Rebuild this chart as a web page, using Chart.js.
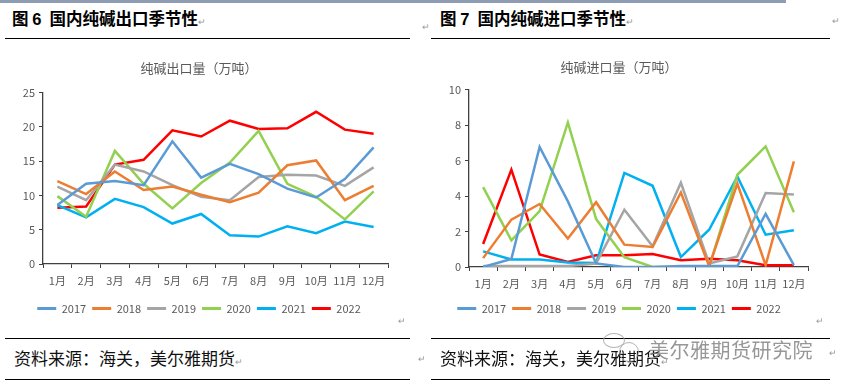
<!DOCTYPE html>
<html>
<head>
<meta charset="utf-8">
<script src="https://cdn.jsdelivr.net/npm/chart.js@4.4.1/dist/chart.umd.min.js"></script>
<style>
  body { margin: 0; background: #fff; font-family: "Noto Sans CJK SC", sans-serif; }
  #page { position: relative; width: 842px; height: 388px; overflow: hidden; }
  .bar { position: absolute; left: 0; top: 0; width: 786px; height: 3px; background: #8e9db3; }
  .head { position: absolute; top: 6px; font-size: 16.5px; font-weight: bold; color: #000; white-space: nowrap; }
  .head b { font-family: "Liberation Sans", sans-serif; margin-right: 8px; }
  .rule { position: absolute; height: 0; border-top: 1.5px solid #000; }
  .foot { position: absolute; top: 345px; font-size: 17px; color: #111; white-space: nowrap; }
  .mark { color: #999; font-size: 9px; font-weight: normal; }
  .pm { position: absolute; color: #999; font-size: 9px; }
  .wm { position: absolute; left: 649px; top: 335px; font-size: 20px; color: rgba(125,125,125,0.8); white-space: nowrap; letter-spacing: 0.5px; }
  .ring { position: absolute; border: 1.5px solid rgba(160,160,160,0.8); border-radius: 50%; }
  canvas { position: absolute; }
</style>
</head>
<body>
<div id="page">
  <div class="bar"></div>
  <div class="head" style="left:12px">图 <b>6</b>国内纯碱出口季节性<span class="mark">↵</span></div>
  <div class="head" style="left:440px">图 <b>7</b>国内纯碱进口季节性<span class="mark">↵</span></div>
  <div class="pm" style="left:422px; top:20px">↵</div>
  <div class="rule" style="left:5px; width:405px; top:38px"></div>
  <div class="rule" style="left:431px; width:399px; top:38px"></div>
  <div class="pm" style="left:832px; top:14px">↵</div>
  <canvas id="c1" width="400" height="278" style="left:10px; top:50px"></canvas>
  <canvas id="c2" width="400" height="278" style="left:430px; top:50px"></canvas>
  <div class="pm" style="left:398px; top:314px">↵</div>
  <div class="pm" style="left:816px; top:314px">↵</div>
  <div class="rule" style="left:5px; width:405px; top:338px"></div>
  <div class="rule" style="left:431px; width:399px; top:338px"></div>
  <div class="foot" style="left:14px">资料来源：海关，美尔雅期货<span class="mark">↵</span></div>
  <div class="foot" style="left:440px">资料来源：海关，美尔雅期货<span class="mark">↵</span></div>
  <div class="pm" style="left:418px; top:352px">↵</div>
  <div class="ring" style="left:603px; top:333px; width:20px; height:13px"></div>
  <div class="ring" style="left:619px; top:342px; width:18px; height:18px"></div>
  <div class="wm">美尔雅期货研究院</div>
  <div class="pm" style="left:829px; top:346px">↵</div>
  <div class="rule" style="left:5px; width:405px; top:379px"></div>
  <div class="rule" style="left:431px; width:399px; top:379px"></div>
</div>
<script>
const months = ['1月','2月','3月','4月','5月','6月','7月','8月','9月','10月','11月','12月'];
const years = ['2017','2018','2019','2020','2021','2022'];
const colors = ['#5b9bd5','#ed7d31','#a5a5a5','#92d050','#00b0f0','#ff0000'];

// 出口量（万吨）
const export2017 = [8.6, 11.7, 12.1, 11.5, 17.9, 12.6, 14.6, 13.1, 11.0, 9.7, 12.4, 17.0];
const export2018 = [12.1, 10.2, 13.5, 10.8, 11.3, 10.1, 9.0, 10.4, 14.4, 15.1, 9.3, 11.4];
const export2019 = [11.3, 9.3, 14.5, 13.5, 11.5, 9.8, 9.3, 12.7, 13.0, 12.9, 11.4, 14.1];
const export2020 = [9.9, 6.9, 16.5, 11.7, 8.1, 11.8, 14.8, 19.4, 11.7, 9.8, 6.5, 10.6];
const export2021 = [8.6, 6.8, 9.5, 8.3, 5.9, 7.3, 4.2, 4.0, 5.5, 4.5, 6.2, 5.4];
const export2022 = [8.2, 8.4, 14.5, 15.2, 19.5, 18.6, 20.9, 19.7, 19.8, 22.2, 19.6, 19.0];

// 进口量（万吨）
const import2017 = [0.0, 0.45, 6.77, 3.7, 0.2, 0.0, 0.0, 0.05, 0.05, 0.05, 3.0, 0.1];
const import2018 = [0.5, 2.67, 3.55, 1.6, 3.65, 1.26, 1.13, 4.2, 0.05, 4.7, 0.1, 5.95];
const import2019 = [0.05, 0.05, 0.05, 0.05, 0.2, 3.23, 1.17, 4.75, 0.2, 0.6, 4.17, 4.08];
const import2020 = [4.5, 1.5, 3.15, 8.15, 2.7, 0.55, 0.0, 0.0, 0.0, 5.2, 6.8, 3.08];
const import2021 = [0.88, 0.42, 0.42, 0.25, 0.22, 5.3, 4.58, 0.56, 2.1, 5.1, 1.82, 2.07];
const import2022 = [1.3, 5.49, 0.7, 0.28, 0.66, 0.66, 0.73, 0.38, 0.47, 0.38, 0.1, 0.1];

const yTicks1 = [0, 5, 10, 15, 20, 25];
const yTicks2 = [0, 2, 4, 6, 8, 10];

const fontFamily = '"Noto Sans CJK SC", sans-serif';
const tickColor = '#595959';

function makeDatasets(series) {
  return series.map((d, i) => ({
    label: years[i],
    data: d,
    borderColor: colors[i],
    backgroundColor: colors[i],
    borderWidth: 2.5,
    pointRadius: 0,
    tension: 0
  }));
}

function createChart(id, title, series, ticks, yWidth, xHeight, pad) {
  new Chart(document.getElementById(id), {
    type: 'line',
    data: { labels: months, datasets: makeDatasets(series) },
    options: {
      responsive: false,
      animation: false,
      layout: { padding: { left: 0, right: pad.right, top: 0, bottom: 4 } },
      scales: {
        x: {
          offset: true,
          grid: { offset: true, drawOnChartArea: false, drawTicks: true, tickLength: 4, color: '#404040' },
          border: { color: '#404040', width: 1.3 },
          ticks: { color: tickColor, font: { family: fontFamily, size: 11 }, padding: 6, maxRotation: 0, autoSkip: false },
          afterFit: s => { s.height = xHeight; }
        },
        y: {
          min: ticks[0],
          max: ticks[ticks.length - 1],
          afterBuildTicks: s => { s.ticks = ticks.map(v => ({ value: v })); },
          grid: { drawOnChartArea: false, drawTicks: true, tickLength: 4, color: '#404040' },
          border: { color: '#404040', width: 1.3 },
          ticks: { color: tickColor, font: { family: fontFamily, size: 11 }, padding: 4 },
          afterFit: s => { s.width = yWidth; }
        }
      },
      plugins: {
        title: {
          display: true,
          text: title,
          color: tickColor,
          font: { family: fontFamily, size: 13, weight: 'normal' },
          padding: { top: pad.titleTop, bottom: pad.titleBottom }
        },
        legend: {
          position: 'bottom',
          labels: {
            boxWidth: 19,
            boxHeight: 3,
            padding: 6,
            color: tickColor,
            font: { family: fontFamily, size: 11 },
            generateLabels: chart => {
              const items = Chart.defaults.plugins.legend.labels.generateLabels(chart);
              items.forEach(it => { it.lineWidth = 0; it.fillStyle = it.strokeStyle; });
              return items;
            }
          }
        },
        tooltip: { enabled: false }
      }
    }
  });
}

createChart('c1', '纯碱出口量（万吨）',
  [export2017, export2018, export2019, export2020, export2021, export2022],
  yTicks1, 33, 33, { right: 22, titleTop: 10, titleBottom: 17 });

createChart('c2', '纯碱进口量（万吨）',
  [import2017, import2018, import2019, import2020, import2021, import2022],
  yTicks2, 39, 30, { right: 22, titleTop: 9, titleBottom: 15 });
</script>
</body>
</html>
